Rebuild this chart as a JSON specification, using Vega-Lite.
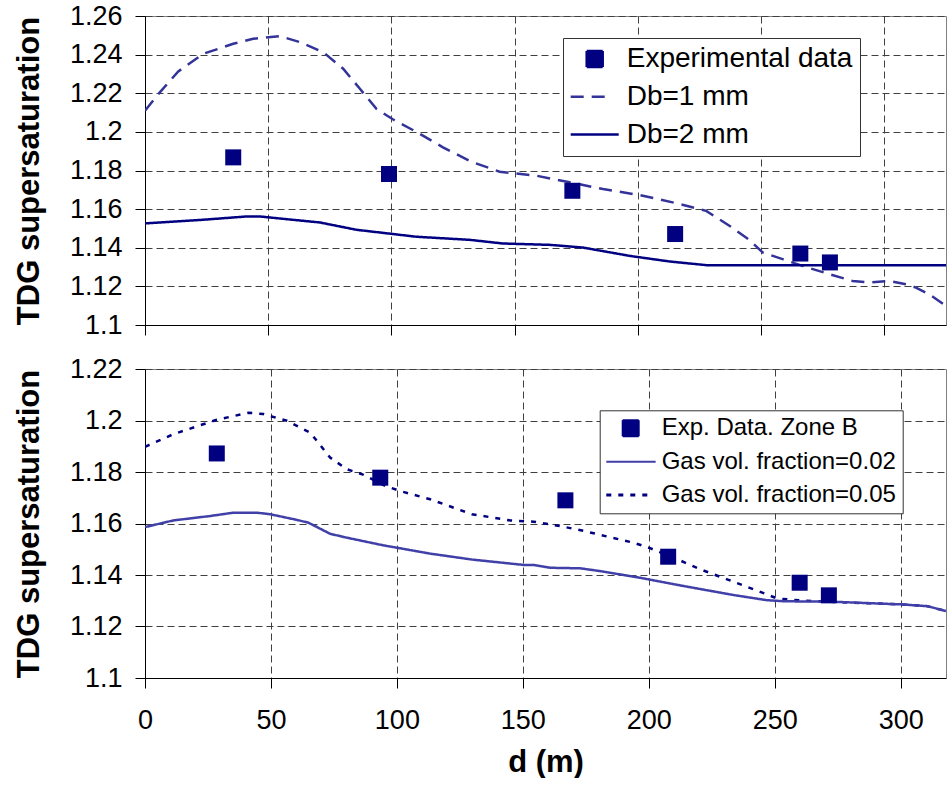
{
  "$schema": "https://vega.github.io/schema/vega-lite/v6.json",
  "padding": {"left": 12, "top": 1, "right": 0, "bottom": 0},
  "background": "white",
  "spacing": 15,
  "datasets": {
    "top": [
      {"s": "Experimental data", "d": 35.8, "v": 1.1868},
      {"s": "Experimental data", "d": 99.0, "v": 1.1782},
      {"s": "Experimental data", "d": 173.4, "v": 1.1695},
      {"s": "Experimental data", "d": 215.1, "v": 1.1471},
      {"s": "Experimental data", "d": 265.9, "v": 1.137},
      {"s": "Experimental data", "d": 277.9, "v": 1.1324},
      {"s": "Db=1 mm", "d": 0, "v": 1.211},
      {"s": "Db=1 mm", "d": 6.1, "v": 1.2206},
      {"s": "Db=1 mm", "d": 13.5, "v": 1.2313},
      {"s": "Db=1 mm", "d": 23.6, "v": 1.2404},
      {"s": "Db=1 mm", "d": 35.8, "v": 1.2456},
      {"s": "Db=1 mm", "d": 43.9, "v": 1.2482},
      {"s": "Db=1 mm", "d": 54.7, "v": 1.2496},
      {"s": "Db=1 mm", "d": 62.8, "v": 1.2465},
      {"s": "Db=1 mm", "d": 72.3, "v": 1.2413},
      {"s": "Db=1 mm", "d": 80.4, "v": 1.2327},
      {"s": "Db=1 mm", "d": 87.2, "v": 1.2223},
      {"s": "Db=1 mm", "d": 93.9, "v": 1.2119},
      {"s": "Db=1 mm", "d": 100.7, "v": 1.2064},
      {"s": "Db=1 mm", "d": 110.1, "v": 1.2},
      {"s": "Db=1 mm", "d": 120.9, "v": 1.192},
      {"s": "Db=1 mm", "d": 132.4, "v": 1.1845},
      {"s": "Db=1 mm", "d": 143.9, "v": 1.1794},
      {"s": "Db=1 mm", "d": 158.8, "v": 1.1773},
      {"s": "Db=1 mm", "d": 172.3, "v": 1.1739},
      {"s": "Db=1 mm", "d": 185.8, "v": 1.1704},
      {"s": "Db=1 mm", "d": 200.6, "v": 1.1673},
      {"s": "Db=1 mm", "d": 215.5, "v": 1.1631},
      {"s": "Db=1 mm", "d": 227.7, "v": 1.1591},
      {"s": "Db=1 mm", "d": 237.1, "v": 1.1514},
      {"s": "Db=1 mm", "d": 245.2, "v": 1.1441},
      {"s": "Db=1 mm", "d": 250.6, "v": 1.1376},
      {"s": "Db=1 mm", "d": 258.7, "v": 1.1341},
      {"s": "Db=1 mm", "d": 266.8, "v": 1.1306},
      {"s": "Db=1 mm", "d": 277.7, "v": 1.1263},
      {"s": "Db=1 mm", "d": 287.1, "v": 1.1228},
      {"s": "Db=1 mm", "d": 294.0, "v": 1.122},
      {"s": "Db=1 mm", "d": 302.0, "v": 1.1228},
      {"s": "Db=1 mm", "d": 308.8, "v": 1.1211},
      {"s": "Db=1 mm", "d": 312.8, "v": 1.1194},
      {"s": "Db=1 mm", "d": 318.2, "v": 1.1159},
      {"s": "Db=1 mm", "d": 325.0, "v": 1.1099},
      {"s": "Db=2 mm", "d": 0, "v": 1.1526},
      {"s": "Db=2 mm", "d": 23.6, "v": 1.1545},
      {"s": "Db=2 mm", "d": 41.2, "v": 1.1562},
      {"s": "Db=2 mm", "d": 46.6, "v": 1.1562},
      {"s": "Db=2 mm", "d": 57.4, "v": 1.1548},
      {"s": "Db=2 mm", "d": 70.9, "v": 1.1531},
      {"s": "Db=2 mm", "d": 85.8, "v": 1.1493},
      {"s": "Db=2 mm", "d": 100.7, "v": 1.1471},
      {"s": "Db=2 mm", "d": 110.1, "v": 1.1457},
      {"s": "Db=2 mm", "d": 131.7, "v": 1.1441},
      {"s": "Db=2 mm", "d": 145.2, "v": 1.1422},
      {"s": "Db=2 mm", "d": 164.2, "v": 1.1415},
      {"s": "Db=2 mm", "d": 177.7, "v": 1.1401},
      {"s": "Db=2 mm", "d": 196.6, "v": 1.1358},
      {"s": "Db=2 mm", "d": 212.8, "v": 1.1329},
      {"s": "Db=2 mm", "d": 227.7, "v": 1.131},
      {"s": "Db=2 mm", "d": 325.0, "v": 1.131}
    ],
    "bottom": [
      {"s": "Exp. Data. Zone B", "d": 28.5, "v": 1.1872},
      {"s": "Exp. Data. Zone B", "d": 93.4, "v": 1.1778},
      {"s": "Exp. Data. Zone B", "d": 166.9, "v": 1.169},
      {"s": "Exp. Data. Zone B", "d": 207.7, "v": 1.1471},
      {"s": "Exp. Data. Zone B", "d": 259.9, "v": 1.137},
      {"s": "Exp. Data. Zone B", "d": 271.5, "v": 1.1321},
      {"s": "Gas vol. fraction=0.05", "d": 0, "v": 1.1898},
      {"s": "Gas vol. fraction=0.05", "d": 11.3, "v": 1.1947},
      {"s": "Gas vol. fraction=0.05", "d": 28.5, "v": 1.2003},
      {"s": "Gas vol. fraction=0.05", "d": 41.1, "v": 1.203},
      {"s": "Gas vol. fraction=0.05", "d": 47.0, "v": 1.2025},
      {"s": "Gas vol. fraction=0.05", "d": 56.3, "v": 1.1999},
      {"s": "Gas vol. fraction=0.05", "d": 65.6, "v": 1.1953},
      {"s": "Gas vol. fraction=0.05", "d": 73.5, "v": 1.1856},
      {"s": "Gas vol. fraction=0.05", "d": 80.1, "v": 1.1811},
      {"s": "Gas vol. fraction=0.05", "d": 86.8, "v": 1.1789},
      {"s": "Gas vol. fraction=0.05", "d": 95.4, "v": 1.1746},
      {"s": "Gas vol. fraction=0.05", "d": 101.3, "v": 1.1726},
      {"s": "Gas vol. fraction=0.05", "d": 113.2, "v": 1.1694},
      {"s": "Gas vol. fraction=0.05", "d": 129.8, "v": 1.1636},
      {"s": "Gas vol. fraction=0.05", "d": 145.0, "v": 1.1612},
      {"s": "Gas vol. fraction=0.05", "d": 154.3, "v": 1.1607},
      {"s": "Gas vol. fraction=0.05", "d": 164.9, "v": 1.159},
      {"s": "Gas vol. fraction=0.05", "d": 174.2, "v": 1.1571},
      {"s": "Gas vol. fraction=0.05", "d": 194.1, "v": 1.1525},
      {"s": "Gas vol. fraction=0.05", "d": 200.0, "v": 1.1506},
      {"s": "Gas vol. fraction=0.05", "d": 210.0, "v": 1.1467},
      {"s": "Gas vol. fraction=0.05", "d": 220.5, "v": 1.1422},
      {"s": "Gas vol. fraction=0.05", "d": 231.1, "v": 1.1383},
      {"s": "Gas vol. fraction=0.05", "d": 241.7, "v": 1.1344},
      {"s": "Gas vol. fraction=0.05", "d": 251.0, "v": 1.1309},
      {"s": "Gas vol. fraction=0.05", "d": 260.3, "v": 1.1301},
      {"s": "Gas vol. fraction=0.05", "d": 273.5, "v": 1.1295},
      {"s": "Gas vol. fraction=0.05", "d": 300.0, "v": 1.1286},
      {"s": "Gas vol. fraction=0.05", "d": 310.6, "v": 1.1279},
      {"s": "Gas vol. fraction=0.05", "d": 318.0, "v": 1.126},
      {"s": "Gas vol. fraction=0.02", "d": 0, "v": 1.1586},
      {"s": "Gas vol. fraction=0.02", "d": 11.3, "v": 1.1612},
      {"s": "Gas vol. fraction=0.02", "d": 25.8, "v": 1.1629},
      {"s": "Gas vol. fraction=0.02", "d": 35.1, "v": 1.1642},
      {"s": "Gas vol. fraction=0.02", "d": 44.4, "v": 1.1642},
      {"s": "Gas vol. fraction=0.02", "d": 49.7, "v": 1.1636},
      {"s": "Gas vol. fraction=0.02", "d": 60.3, "v": 1.1614},
      {"s": "Gas vol. fraction=0.02", "d": 64.9, "v": 1.1603},
      {"s": "Gas vol. fraction=0.02", "d": 73.5, "v": 1.156},
      {"s": "Gas vol. fraction=0.02", "d": 80.1, "v": 1.1545},
      {"s": "Gas vol. fraction=0.02", "d": 94.7, "v": 1.1515},
      {"s": "Gas vol. fraction=0.02", "d": 100.0, "v": 1.1506},
      {"s": "Gas vol. fraction=0.02", "d": 113.2, "v": 1.1483},
      {"s": "Gas vol. fraction=0.02", "d": 129.8, "v": 1.146},
      {"s": "Gas vol. fraction=0.02", "d": 150.4, "v": 1.1439},
      {"s": "Gas vol. fraction=0.02", "d": 154.3, "v": 1.1439},
      {"s": "Gas vol. fraction=0.02", "d": 160.9, "v": 1.1428},
      {"s": "Gas vol. fraction=0.02", "d": 172.8, "v": 1.1426},
      {"s": "Gas vol. fraction=0.02", "d": 180.8, "v": 1.1415},
      {"s": "Gas vol. fraction=0.02", "d": 196.7, "v": 1.1389},
      {"s": "Gas vol. fraction=0.02", "d": 213.9, "v": 1.1357},
      {"s": "Gas vol. fraction=0.02", "d": 233.8, "v": 1.1322},
      {"s": "Gas vol. fraction=0.02", "d": 247.0, "v": 1.1302},
      {"s": "Gas vol. fraction=0.02", "d": 253.7, "v": 1.1298},
      {"s": "Gas vol. fraction=0.02", "d": 273.5, "v": 1.1296},
      {"s": "Gas vol. fraction=0.02", "d": 300.0, "v": 1.1286},
      {"s": "Gas vol. fraction=0.02", "d": 310.6, "v": 1.1279},
      {"s": "Gas vol. fraction=0.02", "d": 318.0, "v": 1.126}
    ]
  },
  "vconcat": [
    {
      "width": 801,
      "height": 309,
      "data": {"name": "top"},
      "encoding": {
        "x": {"field": "d", "type": "quantitative",
          "scale": {"domain": [0, 325], "nice": false, "zero": false},
          "axis": {"values": [0, 50, 100, 150, 200, 250, 300], "labels": false, "title": null, "grid": true}},
        "y": {"field": "v", "type": "quantitative",
          "scale": {"domain": [1.1, 1.26], "nice": false, "zero": false},
          "axis": {"values": [1.1, 1.12, 1.14, 1.16, 1.18, 1.2, 1.22, 1.24, 1.26], "format": "~g",
            "title": "TDG supersaturation", "titlePadding": 24, "labelPadding": 13, "grid": true}}
      },
      "layer": [
        {
          "transform": [{"filter": "datum.s !== 'Experimental data'"}],
          "mark": {"type": "line", "strokeWidth": 2.5, "clip": true},
          "encoding": {
            "color": {"field": "s", "type": "nominal",
              "scale": {"domain": ["Experimental data", "Db=1 mm", "Db=2 mm"], "range": ["#000080", "#333399", "#000080"]},
              "legend": {"orient": "none", "legendX": 418, "legendY": 22, "title": null,
                "labelFontSize": 28, "padding": 7, "symbolOffset": 10.7, "labelOffset": 18, "rowPadding": 9.8,
                "symbolSize": 256, "strokeColor": "#333333", "fillColor": "white",
                "encode": {"symbols": {"update": {
                  "shape": {"signal": "datum.value === 'Experimental data' ? 'square' : (datum.value === 'Db=1 mm' ? 'M-3,0H2.2' : 'M-3,0H3')"},
                  "size": {"value": 256},
                  "fill": {"signal": "datum.value === 'Experimental data' ? '#000080' : 'transparent'"},
                  "stroke": {"signal": "datum.value === 'Experimental data' ? 'transparent' : (datum.value === 'Db=1 mm' ? '#333399' : '#000080')"},
                  "strokeDash": {"signal": "datum.value === 'Db=1 mm' ? [13, 8] : [1, 0]"},
                  "strokeWidth": {"value": 2.5},
                  "opacity": {"value": 1}
                }}}}},
            "strokeDash": {"field": "s", "type": "nominal",
              "scale": {"domain": ["Experimental data", "Db=1 mm", "Db=2 mm"], "range": [[1, 0], [13, 8], [1, 0]]},
              "legend": null}
          }
        },
        {
          "transform": [{"filter": "datum.s === 'Experimental data'"}],
          "mark": {"type": "square", "size": 256, "filled": true, "opacity": 1},
          "encoding": {
            "color": {"field": "s", "type": "nominal",
              "scale": {"domain": ["Experimental data", "Db=1 mm", "Db=2 mm"], "range": ["#000080", "#333399", "#000080"]},
              "legend": {"orient": "none", "legendX": 418, "legendY": 22, "title": null,
                "labelFontSize": 28, "padding": 7, "symbolOffset": 10.7, "labelOffset": 18, "rowPadding": 9.8,
                "symbolSize": 256, "strokeColor": "#333333", "fillColor": "white",
                "encode": {"symbols": {"update": {
                  "shape": {"signal": "datum.value === 'Experimental data' ? 'square' : (datum.value === 'Db=1 mm' ? 'M-3,0H2.2' : 'M-3,0H3')"},
                  "size": {"value": 256},
                  "fill": {"signal": "datum.value === 'Experimental data' ? '#000080' : 'transparent'"},
                  "stroke": {"signal": "datum.value === 'Experimental data' ? 'transparent' : (datum.value === 'Db=1 mm' ? '#333399' : '#000080')"},
                  "strokeDash": {"signal": "datum.value === 'Db=1 mm' ? [13, 8] : [1, 0]"},
                  "strokeWidth": {"value": 2.5},
                  "opacity": {"value": 1}
                }}}}}
          }
        }
      ]
    },
    {
      "width": 801,
      "height": 309,
      "data": {"name": "bottom"},
      "encoding": {
        "x": {"field": "d", "type": "quantitative",
          "scale": {"domain": [0, 318], "nice": false, "zero": false},
          "axis": {"values": [0, 50, 100, 150, 200, 250, 300], "title": "d (m)", "grid": true,
            "labelPadding": 19, "titlePadding": 14}},
        "y": {"field": "v", "type": "quantitative",
          "scale": {"domain": [1.1, 1.22], "nice": false, "zero": false},
          "axis": {"values": [1.1, 1.12, 1.14, 1.16, 1.18, 1.2, 1.22], "format": "~g",
            "title": "TDG supersaturation", "titlePadding": 24, "labelPadding": 13, "grid": true}}
      },
      "layer": [
        {
          "transform": [{"filter": "datum.s !== 'Exp. Data. Zone B'"}],
          "mark": {"type": "line", "strokeWidth": 2.5, "clip": true},
          "encoding": {
            "color": {"field": "s", "type": "nominal",
              "scale": {"domain": ["Exp. Data. Zone B", "Gas vol. fraction=0.02", "Gas vol. fraction=0.05"], "range": ["#000080", "#4040a8", "#000080"]},
              "legend": {"orient": "none", "legendX": 454.7, "legendY": 41.3, "title": null,
                "labelFontSize": 24, "padding": 6, "symbolOffset": 13, "labelOffset": 19, "rowPadding": 9.4,
                "symbolSize": 256, "strokeColor": "#333333", "fillColor": "white",
                "encode": {"symbols": {"update": {
                  "shape": {"signal": "datum.value === 'Exp. Data. Zone B' ? 'square' : (datum.value === 'Gas vol. fraction=0.05' ? 'M-3.05,0H2.7' : 'M-3.05,0H3.12')"},
                  "size": {"value": 256},
                  "fill": {"signal": "datum.value === 'Exp. Data. Zone B' ? '#000080' : 'transparent'"},
                  "stroke": {"signal": "datum.value === 'Exp. Data. Zone B' ? 'transparent' : (datum.value === 'Gas vol. fraction=0.02' ? '#4040a8' : '#000080')"},
                  "strokeDash": {"signal": "datum.value === 'Gas vol. fraction=0.05' ? [5, 7] : [1, 0]"},
                  "strokeWidth": {"signal": "datum.value === 'Gas vol. fraction=0.05' ? 3 : 2"},
                  "opacity": {"value": 1}
                }}}}},
            "strokeDash": {"field": "s", "type": "nominal",
              "scale": {"domain": ["Exp. Data. Zone B", "Gas vol. fraction=0.02", "Gas vol. fraction=0.05"], "range": [[1, 0], [1, 0], [5, 7]]},
              "legend": null}
          }
        },
        {
          "transform": [{"filter": "datum.s === 'Exp. Data. Zone B'"}],
          "mark": {"type": "square", "size": 256, "filled": true, "opacity": 1},
          "encoding": {
            "color": {"field": "s", "type": "nominal",
              "scale": {"domain": ["Exp. Data. Zone B", "Gas vol. fraction=0.02", "Gas vol. fraction=0.05"], "range": ["#000080", "#4040a8", "#000080"]},
              "legend": {"orient": "none", "legendX": 454.7, "legendY": 41.3, "title": null,
                "labelFontSize": 24, "padding": 6, "symbolOffset": 13, "labelOffset": 19, "rowPadding": 9.4,
                "symbolSize": 256, "strokeColor": "#333333", "fillColor": "white",
                "encode": {"symbols": {"update": {
                  "shape": {"signal": "datum.value === 'Exp. Data. Zone B' ? 'square' : (datum.value === 'Gas vol. fraction=0.05' ? 'M-3.05,0H2.7' : 'M-3.05,0H3.12')"},
                  "size": {"value": 256},
                  "fill": {"signal": "datum.value === 'Exp. Data. Zone B' ? '#000080' : 'transparent'"},
                  "stroke": {"signal": "datum.value === 'Exp. Data. Zone B' ? 'transparent' : (datum.value === 'Gas vol. fraction=0.02' ? '#4040a8' : '#000080')"},
                  "strokeDash": {"signal": "datum.value === 'Gas vol. fraction=0.05' ? [5, 7] : [1, 0]"},
                  "strokeWidth": {"signal": "datum.value === 'Gas vol. fraction=0.05' ? 3 : 2"},
                  "opacity": {"value": 1}
                }}}}}
          }
        }
      ]
    }
  ],
  "resolve": {
    "scale": {"x": "independent", "y": "independent", "color": "independent", "strokeDash": "independent"},
    "legend": {"color": "independent", "strokeDash": "independent"}
  },
  "config": {
    "font": "Liberation Sans",
    "view": {"stroke": "#808080", "strokeWidth": 1},
    "axis": {
      "labelFont": "Liberation Sans", "labelFontSize": 27, "labelColor": "black",
      "titleFont": "Liberation Sans", "titleFontSize": 31, "titleFontWeight": "bold", "titleColor": "black",
      "domainColor": "black", "domainWidth": 1, "tickColor": "black", "tickWidth": 1, "tickSize": 10,
      "gridColor": "#404040", "gridDash": [7, 4], "gridWidth": 1, "gridOpacity": 1,
      "labelFlush": false, "labelOverlap": false
    },
    "legend": {
      "labelFont": "Liberation Sans", "labelColor": "black", "labelLimit": 0
    }
  }
}
